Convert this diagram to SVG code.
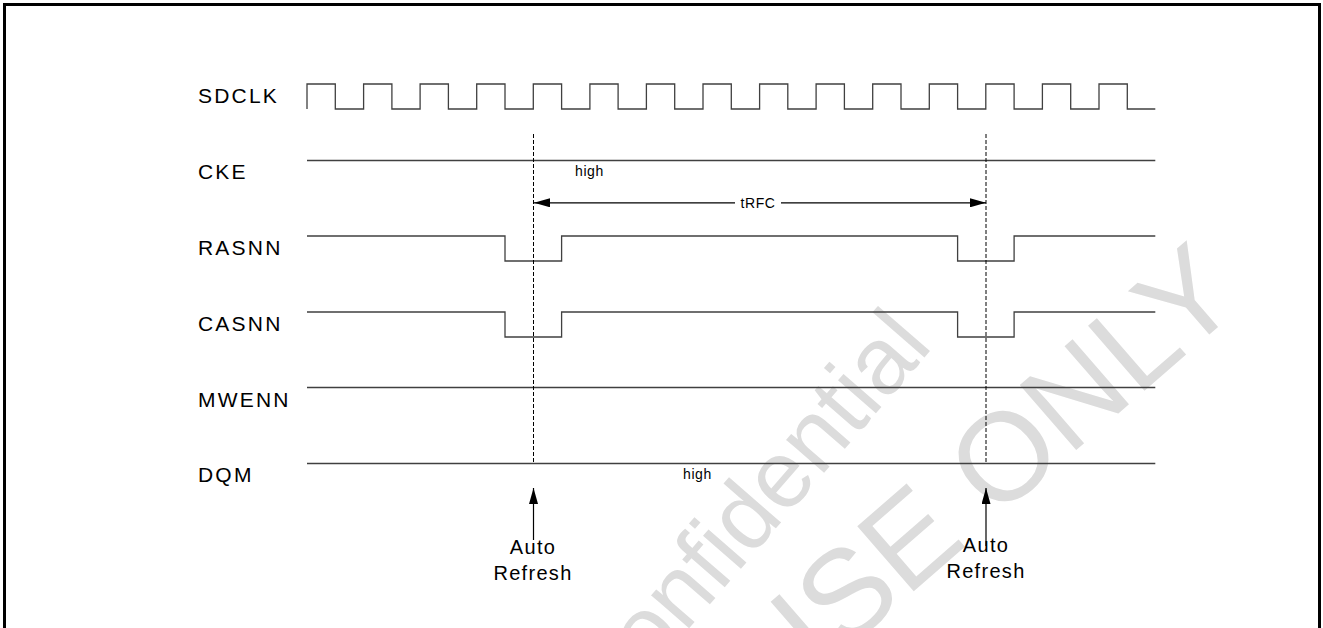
<svg xmlns="http://www.w3.org/2000/svg" width="1323" height="628" viewBox="0 0 1323 628">
<style>
.lbl{font-family:"Liberation Sans",Arial,sans-serif;font-size:21px;letter-spacing:2.2px;fill:#000}
.sm{font-family:"Liberation Sans",Arial,sans-serif;font-size:14px;letter-spacing:0.6px;fill:#000}
.ar{font-family:"Liberation Sans",Arial,sans-serif;font-size:20px;letter-spacing:1.3px;fill:#000;text-anchor:middle}
.wm{font-family:"Liberation Sans",Arial,sans-serif;fill:#dcdcdc}
.sig{fill:none;stroke:#404040;stroke-width:1.3}
.dash{fill:none;stroke:#000;stroke-width:1;stroke-dasharray:4,2}
.conn{fill:none;stroke:#000;stroke-width:1.2}
</style>
<defs>
<marker id="ah" viewBox="0 0 16 9" refX="16" refY="4.5" markerWidth="16" markerHeight="9" markerUnits="userSpaceOnUse" orient="auto">
<path d="M0,0 L16,4.5 L0,9 Z" fill="#000"/>
</marker>
</defs>
<rect x="0" y="0" width="1323" height="628" fill="#fff"/>
<g id="watermark">
<text class="wm" font-size="95" transform="translate(605,725) rotate(-49)">Confidential</text>
<text class="wm" font-size="125" transform="translate(775,712) rotate(-41)">USE ONLY</text>
</g>
<rect x="4.5" y="4.5" width="1315" height="700" fill="none" stroke="#000" stroke-width="3"/>
<g id="labels">
<text class="lbl" x="198" y="103">SDCLK</text>
<text class="lbl" x="198" y="179">CKE</text>
<text class="lbl" x="198" y="255">RASNN</text>
<text class="lbl" x="198" y="331">CASNN</text>
<text class="lbl" x="198" y="407">MWENN</text>
<text class="lbl" x="198" y="482">DQM</text>
</g>
<g id="sdclk">
<path class="sig" d="M307,109 V84 H335.3 V109 H363.6 V84 H391.9 V109 H420.1 V84 H448.4 V109 H476.7 V84 H505 V109 H533.3 V84 H561.6 V109 H589.9 V84 H618.1 V109 H646.4 V84 H674.7 V109 H703 V84 H731.3 V109 H759.6 V84 H787.8 V109 H816.1 V84 H844.4 V109 H872.7 V84 H901 V109 H929.3 V84 H957.6 V109 H985.8 V84 H1014.1 V109 H1042.4 V84 H1070.7 V109 H1099 V84 H1127.3 V109 H1155.3"/>
</g>
<g id="cke">
<path class="sig" d="M307,160.5 H1155.3"/>
<text class="sm" x="575" y="175.5">high</text>
</g>
<g id="rasnn">
<path class="sig" d="M307,236 H505 V261 H561.6 V236 H957.6 V261 H1014.1 V236 H1155.3"/>
</g>
<g id="casnn">
<path class="sig" d="M307,312 H505 V337 H561.6 V312 H957.6 V337 H1014.1 V312 H1155.3"/>
</g>
<g id="mwenn">
<path class="sig" d="M307,387.5 H1155.3"/>
</g>
<g id="dqm">
<path class="sig" d="M307,463.5 H1155.3"/>
<text class="sm" x="683" y="479">high</text>
</g>
<g id="connectors">
<path class="dash" d="M533.5,134 V463"/>
<path class="dash" d="M986,134 V463"/>
<path class="conn" d="M735,202.8 H534" marker-end="url(#ah)"/>
<path class="conn" d="M781,202.8 H986" marker-end="url(#ah)"/>
<path class="conn" d="M533.5,540 V488" marker-end="url(#ah)"/>
<path class="conn" d="M986,546 V488" marker-end="url(#ah)"/>
</g>
<g id="trfc">
<text class="sm" x="758" y="207.5" text-anchor="middle">tRFC</text>
</g>
<g id="auto1">
<text class="ar" x="533" y="554">Auto</text>
<text class="ar" x="533" y="580">Refresh</text>
</g>
<g id="auto2">
<text class="ar" x="986" y="552">Auto</text>
<text class="ar" x="986" y="578">Refresh</text>
</g>
</svg>
